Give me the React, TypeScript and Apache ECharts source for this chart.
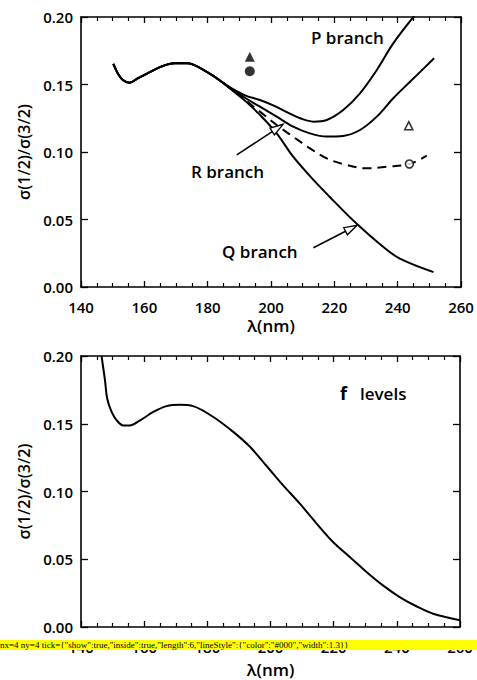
import React, { useEffect, useRef, useState } from "react";
import * as echarts from "echarts";

// ---- Data (λ in nm, ratio σ(1/2)/σ(3/2)) ----
const commonPart: number[][] = [
  [150.2, 0.1652], [151.6, 0.1583], [153.2, 0.1533], [155.3, 0.1513], [157.9, 0.1546],
  [161, 0.1583], [165.3, 0.1632], [169.5, 0.1657], [173.7, 0.1657], [176.8, 0.1632],
  [182.1, 0.1558], [185, 0.151],
];
const pBranch: number[][] = [
  [188, 0.1465], [192, 0.1418], [196.5, 0.1385], [200.7, 0.1345], [205, 0.1295],
  [209.2, 0.125], [213.4, 0.1225], [217.6, 0.1237], [222.8, 0.1311], [228.1, 0.1435],
  [233.4, 0.1607], [238.6, 0.1805], [245.2, 0.2007],
];
const midBranch: number[][] = [
  [188, 0.146], [192, 0.1398], [196.5, 0.1336], [201.8, 0.1262], [207, 0.1188],
  [212.3, 0.1138], [217.6, 0.1114], [222.8, 0.1119], [228.1, 0.1163], [233.4, 0.1262],
  [238.6, 0.1398], [243.9, 0.152], [251.5, 0.1694],
];
const dashedCurve: number[][] = [
  [185, 0.151], [188, 0.1455], [192, 0.1382], [196.5, 0.1299], [201.8, 0.12], [207, 0.1113],
  [212.3, 0.1027], [217.6, 0.0953], [222.8, 0.0911], [230.2, 0.0879], [236.5, 0.0891],
  [243.7, 0.0911], [249.2, 0.0973],
];
const qBranch: number[][] = [
  [188, 0.1452], [192, 0.1375], [196.5, 0.1275], [201.8, 0.1138], [207, 0.0965],
  [213.4, 0.0793], [219.7, 0.064], [227, 0.047], [235.5, 0.0296], [240.7, 0.021],
  [251.3, 0.011],
];
const filledTriangle: number[][] = [[193.3, 0.1706]];
const filledCircle: number[][] = [[193.3, 0.1598]];
const openTriangle: number[][] = [[243.5, 0.1195]];
const openCircle: number[][] = [[243.7, 0.0911]];

const fLevels: number[][] = [
  [146.5, 0.2], [147.6, 0.182], [148.3, 0.1685], [149.7, 0.1587], [151.3, 0.1525],
  [153.4, 0.1488], [155.5, 0.1488], [158.7, 0.1525], [162.9, 0.1587], [167.1, 0.163],
  [171.3, 0.164], [175.5, 0.163], [181.9, 0.155], [188.2, 0.144], [193.5, 0.133],
  [198.7, 0.119], [204, 0.1045], [209.3, 0.091], [214.6, 0.0763], [219.8, 0.0627],
  [225.1, 0.0517], [230.4, 0.0406], [235.6, 0.0307], [240.9, 0.0221], [246.2, 0.0153],
  [251.5, 0.0098], [260, 0.005],
];

const xTicks = [140, 160, 180, 200, 220, 240, 260];
const yTicks = [0, 0.05, 0.1, 0.15, 0.2];

// annotation arrows: [tail, tip] in data coords of top panel
const arrowR: number[][] = [[189.2, 0.0978], [203.8, 0.1205]];
const arrowQ: number[][] = [[213.4, 0.0291], [227.2, 0.0457]];

const FONT = "Open Sans";

export default function App() {
  const ref = useRef<HTMLDivElement>(null);
  const [err, setErr] = useState("");
  useEffect(() => {
    document.body.style.margin = "0";
    if (!ref.current) return;
    const chart = echarts.init(ref.current, null, { renderer: "svg" });
    const mkX = (gi: number, bottom: boolean, nameGap: number) => ({
      type: "value",
      show: true,
      gridIndex: gi,
      position: bottom ? "bottom" : "top",
      min: 140,
      max: 260,
      interval: 20,
      axisLine: { show: true, onZero: false, lineStyle: { color: "#000", width: 1.6 } },
      axisTick: { show: true, inside: true, length: 6, lineStyle: { color: "#000", width: 1.3 } },
      minorTick: { show: true, splitNumber: 4, length: 4, lineStyle: { color: "#000", width: 1.2 } },
      splitLine: { show: false },
      axisLabel: bottom
        ? { show: true, color: "#000", fontSize: 15, fontFamily: FONT, fontWeight: 600, margin: 12 }
        : { show: false },
      name: bottom ? "λ(nm)" : "",
      nameLocation: "middle",
      nameGap,
      nameTextStyle: { color: "#000", fontSize: 17, fontFamily: FONT, fontWeight: 600 },
    });
    const mkY = (gi: number, left: boolean) => ({
      type: "value",
      show: true,
      gridIndex: gi,
      position: left ? "left" : "right",
      min: 0,
      max: 0.2,
      interval: 0.05,
      axisLine: { show: true, onZero: false, lineStyle: { color: "#000", width: 1.6 } },
      axisTick: { show: true, inside: true, length: 7, lineStyle: { color: "#000", width: 1.3 } },
      splitLine: { show: false },
      axisLabel: left
        ? {
            show: true,
            color: "#000",
            fontSize: 15,
            fontFamily: FONT,
            fontWeight: 600,
            margin: 8,
            formatter: (v: number) => v.toFixed(2),
          }
        : { show: false },
      name: left ? "σ(1/2)/σ(3/2)" : "",
      nameLocation: "middle",
      nameGap: 44,
      nameTextStyle: { color: "#000", fontSize: 16, fontFamily: FONT, fontWeight: 600 },
    });
    const lineS = (data: number[][], xi: number, yi: number, dashed = false) => ({
      type: "line",
      xAxisIndex: xi,
      yAxisIndex: yi,
      data,
      smooth: 0.35,
      showSymbol: false,
      symbol: "none",
      lineStyle: { color: "#000", width: 2, type: dashed ? [9, 6] : "solid" },
    });
    const scat = (data: number[][], symbol: string, size: number, filled: boolean) => ({
      type: "scatter",
      xAxisIndex: 0,
      yAxisIndex: 0,
      data,
      symbol,
      symbolSize: size,
      itemStyle: filled
        ? { color: "#000" }
        : { color: "#fff", borderColor: "#000", borderWidth: 1.6 },
      z: 5,
    });
    const msgs: string[] = [];
    try {
      chart.setOption({
        animation: false,
        backgroundColor: "#fff",
        grid: [
          { left: 81, right: 16, top: 17, height: 270 },
          { left: 81, right: 17, top: 356, height: 271 },
        ],
        xAxis: [mkX(0, true, 30), mkX(0, false, 0), mkX(1, true, 34), mkX(1, false, 0)],
        yAxis: [mkY(0, true), mkY(0, false), mkY(1, true), mkY(1, false)],
        series: [
          lineS([...commonPart, ...pBranch], 0, 0),
          lineS([...commonPart, ...midBranch], 0, 0),
          lineS(dashedCurve, 0, 0, true),
          lineS([...commonPart, ...qBranch], 0, 0),
          scat(filledTriangle, "triangle", 10, true),
          scat(filledCircle, "circle", 10, true),
          scat(openTriangle, "triangle", 8, false),
          scat(openCircle, "circle", 8, false),
          lineS(fLevels, 2, 2),
        ],
      });
    } catch (e: any) {
      msgs.push("A:" + String(e && e.stack ? e.stack : e).slice(0, 300));
    }

    const px = (p: number[]) => chart.convertToPixel({ gridIndex: 0 }, p) as number[];
    const arrow = (a: number[][]) => {
      const t = px(a[0]);
      const h = px(a[1]);
      const ang = Math.atan2(h[1] - t[1], h[0] - t[0]);
      const L = 13, W = 4;
      const bx = h[0] - L * Math.cos(ang), by = h[1] - L * Math.sin(ang);
      const nx = -Math.sin(ang) * W, ny = Math.cos(ang) * W;
      return [
        { type: "line", shape: { x1: t[0], y1: t[1], x2: bx, y2: by }, style: { stroke: "#000", lineWidth: 1.5 }, z: 10 },
        {
          type: "polygon",
          shape: { points: [[h[0], h[1]], [bx + nx, by + ny], [bx - nx, by - ny]] },
          style: { fill: "#fff", stroke: "#000", lineWidth: 1.3 },
          z: 11,
        },
      ];
    };
    const txt = (x: number, y: number, text: string, extra: any = {}) => ({
      type: "text",
      x,
      y,
      style: {
        text,
        fill: "#000",
        font: `600 17px "${FONT}"`,
        textAlign: "left",
        textVerticalAlign: "middle",
        ...extra,
      },
      z: 12,
    });
    try {
      chart.setOption({
        graphic: [
          ...arrow(arrowR),
          ...arrow(arrowQ),
          txt(311, 37, "P branch"),
          txt(191, 171, "R branch"),
          txt(222, 251, "Q branch"),
          txt(340, 393, "f", { font: `bold 18px "${FONT}"` }),
          txt(360, 393, "levels"),
        ],
      });
    } catch (e: any) {
      msgs.push("B:" + String(e && e.stack ? e.stack : e).slice(0, 300));
    }
    const opt: any = chart.getOption();
    msgs.push("nx=" + (opt.xAxis || []).length + " ny=" + (opt.yAxis || []).length + " tick=" + JSON.stringify(opt.xAxis[0].axisTick).slice(0, 120));
    setErr(msgs.join(" | "));
    return () => chart.dispose();
  }, []);
  return (
    <div>
      <div ref={ref} style={{ width: 477, height: 680 }} />
      <div style={{ position: "absolute", left: 0, top: 640, fontSize: 9, width: 477, background: "#ff0", wordBreak: "break-all" }}>{err}</div>
    </div>
  );
}
